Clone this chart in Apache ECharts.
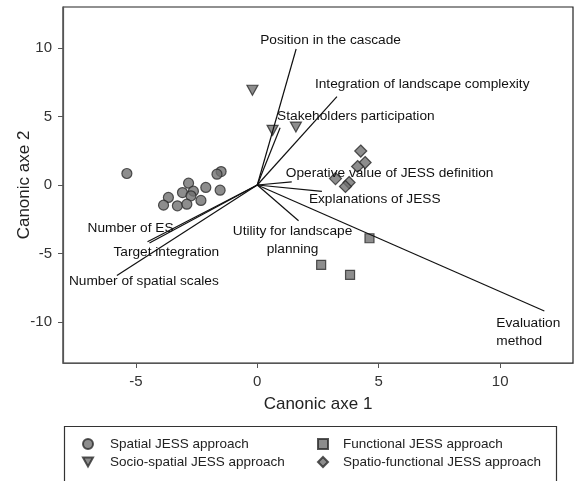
<!DOCTYPE html>
<html>
<head>
<meta charset="utf-8">
<script src="https://cdn.jsdelivr.net/npm/echarts@6/dist/echarts.min.js"></script>
<style>
html,body{margin:0;padding:0;background:#fff;}
#chart{width:574px;height:481px;}
</style>
</head>
<body>
<div id="chart"></div>
<script>
// ---- Data ----
const seriesNames = ['Spatial JESS approach', 'Socio-spatial JESS approach', 'Functional JESS approach', 'Spatio-functional JESS approach'];

const spatialPts = [
  [-5.37, 0.84], [-1.49, 0.98], [-1.66, 0.79], [-2.83, 0.13], [-2.12, -0.18],
  [-1.53, -0.38], [-3.08, -0.55], [-2.63, -0.45], [-2.73, -0.79], [-3.66, -0.91],
  [-2.32, -1.13], [-3.86, -1.47], [-3.29, -1.52], [-2.90, -1.40]
];
const socioSpatialPts = [[-0.20, 6.92], [0.63, 3.99], [1.59, 4.23]];
const functionalPts = [[4.62, -3.89], [2.63, -5.83], [3.82, -6.56]];
const spatioFunctionalPts = [[4.26, 2.48], [4.44, 1.64], [4.13, 1.35], [3.22, 0.47], [3.78, 0.18], [3.63, -0.11]];

const vectorNames = [
  'Position in the cascade', 'Integration of landscape complexity', 'Stakeholders participation',
  'Operative value of JESS definition', 'Explanations of JESS', 'Utility for landscape\nplanning',
  'Evaluation\nmethod', 'Number of ES', 'Target integration', 'Number of spatial scales'
];
const vectorX = [1.60, 3.28, 0.94, 1.42, 2.66, 1.70, 11.82, -4.52, -4.44, -5.78];
const vectorY = [9.93, 6.46, 4.18, 0.23, -0.47, -2.61, -9.20, -4.14, -4.23, -6.61];

const xTicks = [-5, 0, 5, 10];
const yTicks = [-10, -5, 0, 5, 10];

// ---- Label placement styles (pixel offsets from vector tip) ----
const labelStyle = [
  {dx: -36, dy: -9, align: 'left'},
  {dx: -22, dy: -12, align: 'left'},
  {dx: -3, dy: -12, align: 'left'},
  {dx: -6, dy: -9, align: 'left'},
  {dx: -13, dy: 8, align: 'left'},
  {dx: -6, dy: 19, align: 'center'},
  {dx: -48, dy: 21, align: 'left'},
  {dx: 26, dy: -13, align: 'right'},
  {dx: -36, dy: 9, align: 'left'},
  {dx: -48, dy: 6, align: 'left'}
];

const FONT = '"Liberation Sans", Arial, sans-serif';
const markerStyle = {color: '#707070', borderColor: '#2a2a2a', borderWidth: 1.2};
const invTriangle = 'path://M0,0 L10,0 L5,9 Z';

const vectorData = vectorNames.map((n, i) => [vectorX[i], vectorY[i]]);

const chart = echarts.init(document.getElementById('chart'));
chart.setOption({
  animation: false,
  backgroundColor: '#fff',
  grid: {left: 63, right: 1, top: 7, bottom: 118, containLabel: false, outerBoundsMode: 'none',
    show: true, borderColor: '#222', borderWidth: 1.2, backgroundColor: 'transparent'},
  xAxis: {
    type: 'value', min: -8, max: 13,
    name: 'Canonic axe 1', nameLocation: 'middle', nameGap: 33, nameMoveOverlap: false,
    nameTextStyle: {fontFamily: FONT, fontSize: 17, color: '#222'},
    axisLine: {show: true, onZero: false, lineStyle: {color: '#555', width: 1.2}},
    axisTick: {show: true, length: 5, customValues: xTicks, lineStyle: {color: '#555'}},
    axisLabel: {customValues: xTicks, margin: 11, fontFamily: FONT, fontSize: 15, color: '#333'},
    splitLine: {show: false}
  },
  yAxis: {
    type: 'value', min: -13, max: 13,
    name: 'Canonic axe 2', nameLocation: 'middle', nameGap: 30, nameMoveOverlap: false,
    nameTextStyle: {fontFamily: FONT, fontSize: 17, color: '#222'},
    axisLine: {show: true, onZero: false, lineStyle: {color: '#555', width: 1.2}},
    axisTick: {show: true, length: 5, customValues: yTicks, lineStyle: {color: '#555'}},
    axisLabel: {customValues: yTicks, margin: 11, fontFamily: FONT, fontSize: 15, color: '#333'},
    splitLine: {show: false}
  },
  legend: [
    {
      data: [seriesNames[0], seriesNames[1]], orient: 'vertical', left: 77, top: 432,
      itemWidth: 10, itemHeight: 10, itemGap: 4,
      textStyle: {fontFamily: FONT, fontSize: 13.5, color: '#222', padding: [0, 0, 0, 12]}
    },
    {
      data: [seriesNames[2], seriesNames[3]], orient: 'vertical', left: 312, top: 432,
      itemWidth: 10, itemHeight: 10, itemGap: 4,
      textStyle: {fontFamily: FONT, fontSize: 13.5, color: '#222', padding: [0, 0, 0, 10]}
    }
  ],
  graphic: [{
    type: 'rect', left: 62, top: 424,
    shape: {width: 492, height: 70},
    style: {fill: 'none', stroke: '#333', lineWidth: 1.2}
  }],
  series: [
    {name: seriesNames[0], type: 'scatter', symbol: 'circle', symbolSize: 10, data: spatialPts, itemStyle: markerStyle},
    {name: seriesNames[1], type: 'scatter', symbol: invTriangle, symbolSize: [11, 10], data: socioSpatialPts, itemStyle: markerStyle},
    {name: seriesNames[2], type: 'scatter', symbol: 'rect', symbolSize: 9, data: functionalPts, itemStyle: markerStyle},
    {name: seriesNames[3], type: 'scatter', symbol: 'diamond', symbolSize: 12, data: spatioFunctionalPts, itemStyle: markerStyle},
    {
      name: 'vectors', type: 'custom', data: vectorData, z: 5, clip: false,
      renderItem: function (params, api) {
        const i = params.dataIndex;
        const p0 = api.coord([0, 0]);
        const p1 = api.coord([api.value(0), api.value(1)]);
        const st = labelStyle[i];
        return {
          type: 'group',
          children: [
            {type: 'line', shape: {x1: p0[0], y1: p0[1], x2: p1[0], y2: p1[1]}, style: {stroke: '#111', lineWidth: 1.2}},
            {type: 'text', x: p1[0] + st.dx, y: p1[1] + st.dy,
              style: {text: vectorNames[i], align: st.align, verticalAlign: 'middle',
                fontFamily: FONT, fontSize: 13.7, fill: '#111', lineHeight: 18}}
          ]
        };
      }
    }
  ]
});
</script>
</body>
</html>
